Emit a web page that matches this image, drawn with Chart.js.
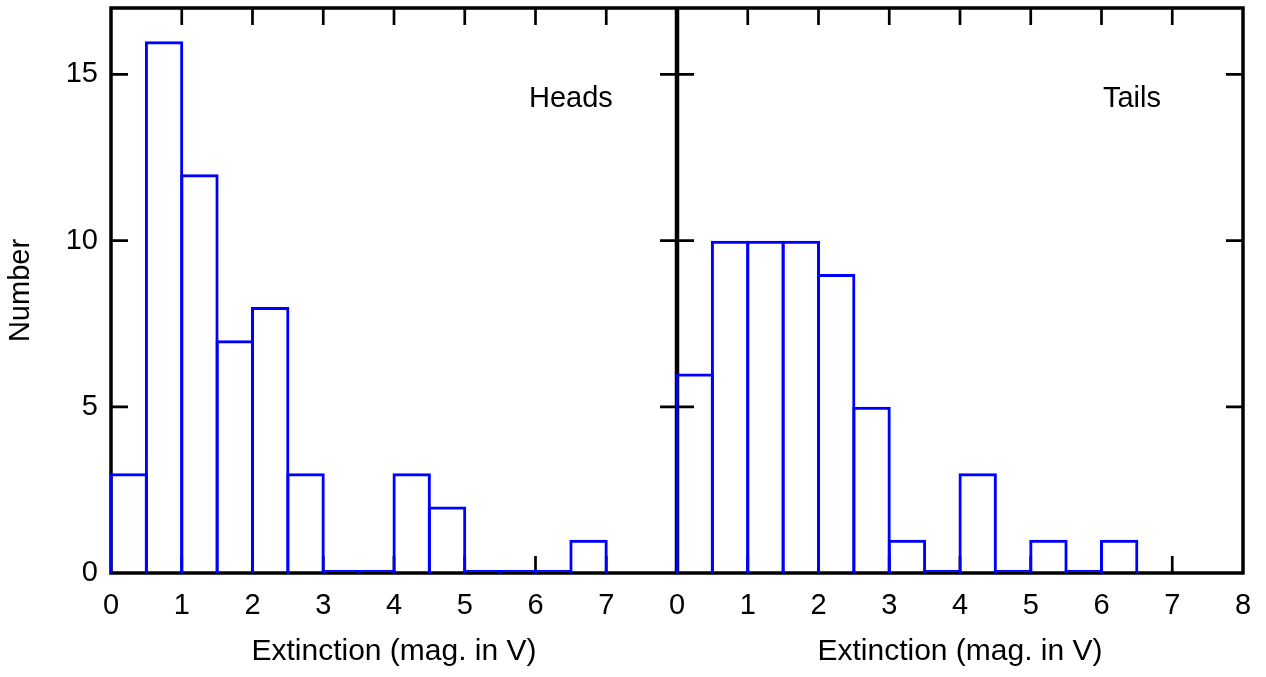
<!DOCTYPE html>
<html>
<head>
<meta charset="utf-8">
<script src="https://cdn.jsdelivr.net/npm/chart.js@4.4.0/dist/chart.umd.min.js"></script>
<style>
  html, body { margin: 0; padding: 0; background: #fff; }
</style>
</head>
<body>
<canvas id="myChart" width="1266" height="677"></canvas>
<script>
// histogram bins: left edge of each 0.5 mag bin
var headsBins = [0, 0.5, 1, 1.5, 2, 2.5, 3, 3.5, 4, 4.5, 5, 5.5, 6, 6.5];
var headsCounts = [3, 16, 12, 7, 8, 3, 0, 0, 3, 2, 0, 0, 0, 1];
var tailsBins = [0, 0.5, 1, 1.5, 2, 2.5, 3, 3.5, 4, 4.5, 5, 5.5, 6];
var tailsCounts = [6, 10, 10, 10, 9, 5, 1, 0, 3, 0, 1, 0, 1];
var binWidth = 0.5;
// the two panels share one x scale, right panel starts at 8
var panelOffset = 8;
var xTickLabels = ['0', '1', '2', '3', '4', '5', '6', '7', '0', '1', '2', '3', '4', '5', '6', '7', '8'];
var yTicks = [0, 5, 10, 15];
var panelNames = ['Heads', 'Tails'];
var xTitle = 'Extinction (mag. in V)';
var yTitle = 'Number';

var FONT = '"Liberation Sans", Arial, sans-serif';

function toPoints(bins, counts, offset) {
  var pts = [];
  for (var i = 0; i < bins.length; i++) {
    pts.push({ x: offset + bins[i] + binWidth / 2, y: counts[i] });
  }
  return pts;
}

// black frame, inner ticks, panel names and x titles
var framePlugin = {
  id: 'frame',
  beforeDatasetsDraw: function(chart) {
    var ctx = chart.ctx;
    var a = chart.chartArea;
    var xs = chart.scales.x;
    var ys = chart.scales.y;
    var mid = xs.getPixelForValue(panelOffset);
    var tl = 17;
    ctx.save();
    ctx.strokeStyle = '#000';
    ctx.lineWidth = 2.7;
    ctx.beginPath();
    for (var v = 1; v < 16; v++) {
      if (v === panelOffset) continue;
      var px = xs.getPixelForValue(v);
      ctx.moveTo(px, a.bottom); ctx.lineTo(px, a.bottom - tl);
      ctx.moveTo(px, a.top); ctx.lineTo(px, a.top + tl);
    }
    for (var j = 0; j < yTicks.length; j++) {
      if (yTicks[j] === 0) continue;
      var py = ys.getPixelForValue(yTicks[j]);
      ctx.moveTo(a.left, py); ctx.lineTo(a.left + tl, py);
      ctx.moveTo(a.right, py); ctx.lineTo(a.right - tl, py);
      ctx.moveTo(mid - tl, py); ctx.lineTo(mid + tl, py);
    }
    ctx.stroke();
    ctx.lineWidth = 3.5;
    ctx.strokeRect(a.left, a.top, a.right - a.left, a.bottom - a.top);
    ctx.lineWidth = 4.5;
    ctx.beginPath();
    ctx.moveTo(mid, a.top); ctx.lineTo(mid, a.bottom);
    ctx.stroke();
    ctx.restore();
  },
  afterDraw: function(chart) {
    var ctx = chart.ctx;
    var xs = chart.scales.x;
    var ys = chart.scales.y;
    ctx.save();
    ctx.fillStyle = '#000';
    ctx.font = '29px ' + FONT;
    ctx.textAlign = 'center';
    ctx.textBaseline = 'middle';
    ctx.fillText(panelNames[0], xs.getPixelForValue(6.5), ys.getPixelForValue(14.25));
    ctx.fillText(panelNames[1], xs.getPixelForValue(panelOffset + 6.43), ys.getPixelForValue(14.25));
    ctx.font = '30px ' + FONT;
    ctx.fillText(xTitle, xs.getPixelForValue(4), 652);
    ctx.fillText(xTitle, xs.getPixelForValue(panelOffset + 4), 652);
    ctx.restore();
  }
};

var barStyle = {
  backgroundColor: 'rgba(0,0,0,0)',
  borderColor: '#0000ff',
  borderWidth: 3,
  borderSkipped: 'start',
  inflateAmount: 0,
  barPercentage: 1.085,
  categoryPercentage: 1,
  minBarLength: 3,
  grouped: false,
  clip: 4
};

var ctx = document.getElementById('myChart').getContext('2d');
new Chart(ctx, {
  type: 'bar',
  data: {
    datasets: [
      Object.assign({ label: panelNames[0], data: toPoints(headsBins, headsCounts, 0) }, barStyle),
      Object.assign({ label: panelNames[1], data: toPoints(tailsBins, tailsCounts, panelOffset) }, barStyle)
    ]
  },
  options: {
    responsive: false,
    animation: false,
    layout: { padding: { top: 8, right: 23, left: 0, bottom: 0 } },
    plugins: {
      legend: { display: false },
      tooltip: { enabled: false }
    },
    scales: {
      x: {
        type: 'linear',
        min: 0,
        max: 16,
        offset: false,
        grid: { display: false, drawTicks: false },
        border: { display: false },
        ticks: {
          stepSize: 1,
          autoSkip: false,
          maxRotation: 0,
          padding: 16,
          color: '#000',
          font: { family: FONT, size: 29 },
          callback: function(v) { return xTickLabels[v]; }
        },
        afterFit: function(scale) {
          scale.height = 104;
          scale.paddingLeft = 0;
          scale.paddingRight = 0;
        }
      },
      y: {
        min: 0,
        max: 17,
        grid: { display: false, drawTicks: false },
        border: { display: false },
        ticks: {
          stepSize: 5,
          padding: 13,
          color: '#000',
          font: { family: FONT, size: 29 }
        },
        afterBuildTicks: function(scale) {
          scale.ticks = yTicks.map(function(v) { return { value: v }; });
        },
        title: {
          display: true,
          text: yTitle,
          color: '#000',
          font: { family: FONT, size: 29 },
          padding: { top: 4, bottom: 0 }
        },
        afterFit: function(scale) {
          scale.width = 111;
          scale.paddingTop = 0;
          scale.paddingBottom = 0;
        }
      }
    }
  },
  plugins: [framePlugin]
});
</script>
</body>
</html>
